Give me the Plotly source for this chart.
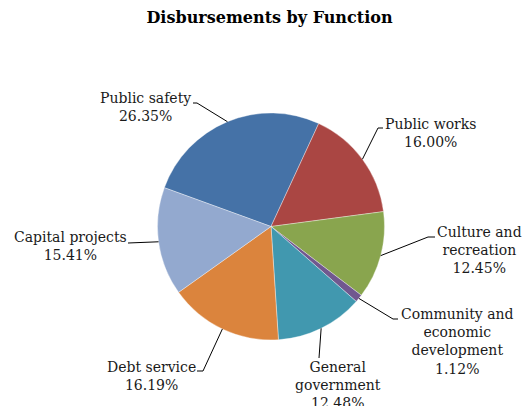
import math
import plotly.graph_objects as go

# ---- data ----
categories = ["Public safety", "Public works", "Culture and recreation",
              "Community and economic development", "General government",
              "Debt service", "Capital projects"]
label_lines = [["Public safety"], ["Public works"], ["Culture and", "recreation"],
               ["Community and", "economic", "development"], ["General", "government"],
               ["Debt service"], ["Capital projects"]]
shares = [26.35, 16.00, 12.45, 1.12, 12.48, 16.19, 15.41]
colors = ["#4572A7", "#AA4643", "#89A54E", "#71588F", "#4198AF", "#DB843D", "#93A9CF"]

# ---- layout (pixels) ----
W, H = 526, 406
CX, CY, R = 271, 226.5, 113.5
ROTATION = -70
label_pos = [(145, 106.5), (430, 133), (479, 249.5), (457, 341), (338, 385), (152, 376), (70, 246.5)]
elbows = [[(197, 103), (193, 103)], [(378, 128), (383, 128)], [(428, 237), (435, 237)],
          [(393, 319), (398, 319)], [(319, 358)], [(203, 371), (197, 371)], [(128, 243)]]

FONT = "DejaVu Serif"

def px(x):
    return x / W

def py(y):
    return 1 - y / H

fig = go.Figure(go.Pie(
    labels=categories, values=shares, sort=False, direction="clockwise",
    rotation=ROTATION, marker=dict(colors=colors, line=dict(color="rgba(255,255,255,0.6)", width=0.6)),
    textinfo="none", hoverinfo="label+percent", showlegend=False,
    domain=dict(x=[px(CX - R), px(CX + R)], y=[py(CY + R), py(CY - R)]),
))

total = sum(shares)
start = ROTATION
annotations = []
shapes = []
for i, v in enumerate(shares):
    ang = math.radians(start + 360 * v / total / 2)
    start += 360 * v / total
    ax, ay = CX + R * math.sin(ang), CY - R * math.cos(ang)
    pts = [(ax, ay)] + elbows[i]
    path = "M " + " L ".join(f"{px(x)},{py(y)}" for x, y in pts)
    shapes.append(dict(type="path", path=path, xref="paper", yref="paper",
                       line=dict(color="#000000", width=1)))
    text = "<br>".join(label_lines[i] + [f"{v:.2f}%"])
    lx, ly = label_pos[i]
    annotations.append(dict(x=px(lx), y=py(ly), xref="paper", yref="paper", text=text,
                            showarrow=False, xanchor="center", yanchor="middle", align="center",
                            font=dict(family=FONT, size=14, color="#1a1a1a")))

fig.update_layout(
    width=W, height=H, margin=dict(l=0, r=0, t=0, b=0),
    paper_bgcolor="white", plot_bgcolor="white",
    title=dict(text="<b>Disbursements by Function</b>", x=269.5 / W, xanchor="center",
               y=py(17), yanchor="middle", font=dict(family=FONT, size=16, color="#000000")),
    annotations=annotations, shapes=shapes,
)

fig.write_html("out.html", config={"displayModeBar": False},
               post_script="document.body.style.margin='0';document.body.style.overflow='hidden';")
